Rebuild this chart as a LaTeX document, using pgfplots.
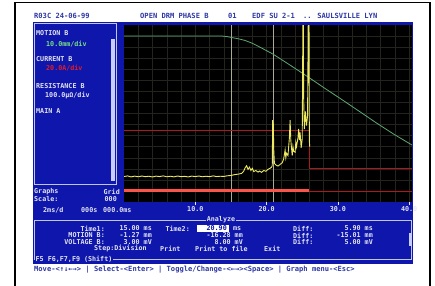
\documentclass[border=0pt]{standalone}
\usepackage{pgfplots}
\pgfplotsset{compat=1.18}
\usepackage{fontspec}
\setmainfont{DejaVu Sans Mono}
\newfontfamily\mono{DejaVu Sans Mono}
\newcommand\scr{\mono\bfseries\fontsize{6.7}{7}\selectfont}
\newcommand\hdr{\mono\bfseries\fontsize{7.1}{8}\selectfont}
\newcommand\mnu{\mono\bfseries\fontsize{7.1}{8}\selectfont}
\definecolor{scrblue}{RGB}{14,22,172}
\definecolor{hdrblue}{RGB}{45,55,165}
\definecolor{txtlight}{RGB}{228,228,242}
\definecolor{gridc}{RGB}{34,36,29}
\definecolor{motgreen}{RGB}{95,170,115}
\definecolor{volyel}{RGB}{236,232,95}
\definecolor{curred}{RGB}{175,25,30}
\definecolor{barred}{RGB}{250,85,72}
\definecolor{cursorc}{RGB}{170,170,150}
\definecolor{boxc}{RGB}{190,196,236}
\definecolor{scrollc}{RGB}{200,205,245}
\definecolor{lblgreen}{RGB}{120,225,130}
\definecolor{lblred}{RGB}{225,30,40}
\begin{document}
\begin{tikzpicture}
\useasboundingbox (0,0) rectangle (435pt,-285pt);
\fill[white] (0,0) rectangle (435pt,-285pt);
\begin{scope}[x=1pt,y=-1pt]
\draw[black,line width=1.2pt] (15,286) -- (15,2.5) -- (430,2.5) -- (430,286);
\fill[scrblue] (33,22) rectangle (413,264);
% header
\begin{scope}[every node/.style={anchor=west,inner sep=0,text=hdrblue,font=\hdr}]
\node at (34,15.5) {R03C 24-06-99};
\node at (140,15.5) {OPEN DRM PHASE B};
\node at (228,15.5) {01};
\node at (252,15.5) {EDF SU 2-1};
\node at (303,15.5) {.. SAULSVILLE LYN};
\end{scope}
% left panel
\draw[boxc,line width=0.6pt] (34.5,23.5) rectangle (116.5,184.5);
\fill[scrollc] (111,39) rectangle (114.5,181);
\begin{scope}[every node/.style={anchor=west,inner sep=0,text=txtlight,font=\scr}]
\node at (36,33) {MOTION B};
\node[text=lblgreen] at (46,44) {10.0mm/div};
\node at (36,59) {CURRENT B};
\node[text=lblred] at (46,68) {20.0A/div};
\node at (36,86) {RESISTANCE B};
\node at (45,95) {100.0µΩ/div};
\node at (36,111) {MAIN A};
\node at (34,192) {Graphs};
\node[anchor=east] at (120,192) {Grid};
\node at (34,199) {Scale:};
\node[anchor=east] at (117,199) {000};
\node at (43,210) {2ms/d};
\node at (81,210) {000s};
\node at (103,210) {000.0ms};
\end{scope}
% analyze box
\draw[boxc,line width=0.6pt] (34.5,220) rectangle (411.5,259.5);
\fill[scrollc] (408.5,233) rectangle (411.5,246);
\begin{scope}[every node/.style={inner sep=0,text=txtlight,font=\scr}]
\node[fill=scrblue,inner xsep=1pt,inner ysep=0.5pt] at (221,220) {Analyze};
\node[anchor=east] at (105,228.5) {Time1:};
\node[anchor=east] at (152,228.5) {15.00 ms};
\node[anchor=east] at (190,228.5) {Time2:};
\fill[white] (197,225) rectangle (229,232.3);
\node[anchor=east,text=scrblue] at (227,228.5) {20.90};
\node[anchor=west] at (233,228.5) {ms};
\node[anchor=west] at (293,228.5) {Diff:};
\node[anchor=east] at (373,228.5) {5.90 ms};
\node[anchor=east] at (105,235.5) {MOTION B:};
\node[anchor=east] at (152,235.5) {-1.27 mm};
\node[anchor=east] at (243,235.5) {-16.28 mm};
\node[anchor=west] at (293,235.5) {Diff:};
\node[anchor=east] at (373,235.5) {-15.01 mm};
\node[anchor=east] at (105,242) {VOLTAGE B:};
\node[anchor=east] at (152,242) {3.00 mV};
\node[anchor=east] at (243,242) {8.00 mV};
\node[anchor=west] at (293,242) {Diff:};
\node[anchor=east] at (373,242) {5.00 mV};
\node[anchor=west] at (94,248.7) {Step:Division};
\node[anchor=west] at (160,248.7) {Print};
\node[anchor=west] at (195,248.7) {Print to file};
\node[anchor=west] at (264,248.7) {Exit};
\node[anchor=west,fill=scrblue,inner xsep=0.5pt,inner ysep=0.5pt] at (35,259.5) {F5 F6,F7,F9 (Shift)};
\end{scope}
% bottom menu
\node[anchor=west,inner sep=0,text=hdrblue,font=\mnu] at (34,269.5) {Move-<↑↓←→>  |  Select-<Enter>  |  Toggle/Change-<←→><Space>  |  Graph menu-<Esc>};
\end{scope}
\begin{axis}[
  at={(124pt,-202pt)}, anchor=south west,
  width=288pt, height=177pt, scale only axis,
  xmin=0, xmax=40.4, ymin=0, ymax=16,
  axis background/.style={fill=black},
  axis line style={draw=none},
  xtick={10,20,30,40}, xticklabels={10.0,20.0,30.0,40.0},
  minor xtick={2,4,6,8,12,14,16,18,22,24,26,28,32,34,36,38},
  ytick={1,2,...,15}, yticklabels={},
  grid=both,
  grid style={gridc,line width=0.45pt},
  minor grid style={gridc,line width=0.45pt},
  xtick pos=bottom, tick align=outside,
  major tick length=2.5pt, minor tick length=0pt,
  xtick style={txtlight,line width=0.7pt},
  ytick style={draw=none},
  minor x tick style={draw=none},
  xticklabel style={text=txtlight,font=\scr,inner sep=1pt,yshift=-1pt},
  clip=true,
]
\addplot[cursorc,line width=0.6pt] coordinates {(15,0)(15,16)};
\addplot[cursorc,line width=0.6pt] coordinates {(20.9,0)(20.9,16)};
\addplot[curred,line width=0.8pt] coordinates {(0,6.5)(26,6.5)(26,3.0)(40.4,3.0)};
\addplot[curred,line width=0.8pt] coordinates {(26,1.0)(40.4,1.0)};
\addplot[barred,line width=3pt] coordinates {(0,1.0)(26,1.0)};
\addplot[motgreen,line width=0.8pt] coordinates {
(0,15.0)(13.8,15.0)(14.5,14.95)(15,14.88)(16,14.76)(17,14.6)(18,14.35)(19,14.02)(20.9,13.37)
(23,12.5)(25.6,11.4)(28,10.35)(30.7,9.2)(33,8.2)(35.4,7.15)(37.8,6.15)(40.4,5.15)};
\addplot[volyel,line width=0.9pt] coordinates {
(0,2.30)(0.5,2.36)(1,2.27)(1.5,2.34)(2,2.28)(2.5,2.35)(3,2.29)(3.5,2.33)(4,2.26)(4.5,2.34)
(5,2.30)(5.5,2.36)(6,2.28)(6.5,2.33)(7,2.27)(7.5,2.35)(8,2.29)(8.5,2.32)(9,2.27)(9.5,2.34)
(10,2.30)(10.5,2.35)(11,2.28)(11.5,2.33)(12,2.29)(12.5,2.36)(13,2.30)(13.5,2.33)(14,2.31)(14.5,2.37)
(15,2.40)(15.5,2.47)(16,2.52)(16.5,2.58)(16.8,2.80)(17.0,3.10)(17.2,3.28)(17.4,2.95)(17.6,3.15)(17.8,2.85)
(18.0,3.05)(18.2,2.75)(18.5,2.85)(18.8,2.70)(19.0,2.80)(19.3,2.68)(19.6,2.85)(19.9,2.78)(20.2,2.95)(20.5,3.05)
(20.7,3.15)(20.8,3.30)(20.85,7.4)(20.95,7.0)(21.0,4.8)(21.1,3.5)(21.3,3.35)(21.6,3.25)(21.9,3.40)(22.2,3.55)(22.4,3.9)
(22.6,4.7)(22.7,4.0)(22.8,4.4)(23.0,4.2)(23.1,5.0)(23.2,5.8)(23.3,7.4)(23.4,5.6)(23.45,5.2)(23.6,4.2)(23.7,5.0)(23.8,4.6)(24.0,4.5)(24.1,5.4)(24.2,5.0)
(24.4,5.8)(24.5,6.6)(24.6,5.6)(24.7,6.3)(24.85,4.9)(25.0,5.7)(25.1,17)(25.15,17)(25.2,9.5)(25.3,6.6)(25.45,8.2)
(25.6,6.9)(25.75,7.8)(25.85,17)(25.95,17)(26.0,5.5)(26.05,5.0)};
\end{axis}
\end{tikzpicture}
\end{document}
